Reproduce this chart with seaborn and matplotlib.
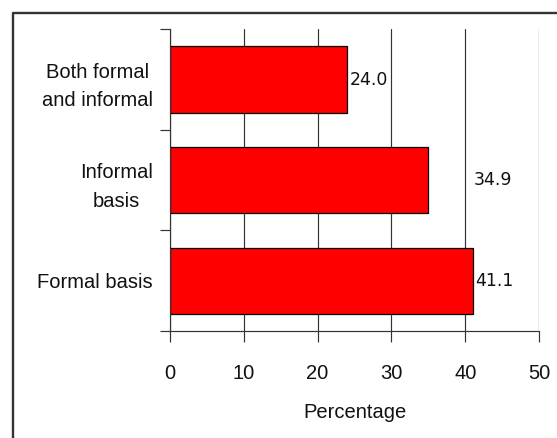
#!/usr/bin/env python3

import matplotlib
matplotlib.use("Agg")
import matplotlib.pyplot as plt
import pandas as pd
import seaborn as sns

# data, top to bottom
categories = ["Both formal\nand informal", "Informal\nbasis", "Formal basis"]
values = [24.0, 34.9, 41.1]
value_labels = ["24.0", "34.9", "41.1"]
x_ticks = [0, 10, 20, 30, 40, 50]

FIGSIZE = (5.57, 4.38)
LINE = "#333333"
TEXT = "#111111"


def plot_bars(df, output_png):
    fig, ax = plt.subplots(figsize=FIGSIZE, dpi=100)

    sns.barplot(data=df, x="value", y="category", orient="h", ax=ax,
                color="#ff0000", saturation=1, width=0.66,
                edgecolor="black", linewidth=0.9)

    ax.set_xlim(0, 50)
    ax.set_ylim(2.5, -0.5)
    ax.set_xticks(x_ticks)
    ax.set_xticklabels([str(t) for t in x_ticks])

    # vertical grid only, behind the bars
    ax.set_axisbelow(True)
    ax.xaxis.grid(True, color=LINE, linewidth=0.85)
    ax.yaxis.grid(False)

    # category ticks sit between the bars
    ax.set_yticks([-0.5, 0.5, 1.5, 2.5], minor=True)
    ax.tick_params(axis="y", which="minor", length=7, width=0.85, color=LINE, left=True)
    ax.tick_params(axis="y", which="major", length=0, pad=12.5, labelsize=14.5,
                   labelcolor=TEXT)
    for lab in ax.get_yticklabels():
        lab.set_multialignment("center")
        lab.set_linespacing(1.65)
    ax.tick_params(axis="x", which="major", length=8, width=0.85, color=LINE,
                   bottom=True, pad=16, labelsize=14.5, labelcolor=TEXT)

    for side in ["top", "right"]:
        ax.spines[side].set_visible(False)
    for side in ["left", "bottom"]:
        ax.spines[side].set_color(LINE)
        ax.spines[side].set_linewidth(0.85)

    ax.set_ylabel("")
    ax.set_xlabel("Percentage", fontsize=14.5, labelpad=14, color=TEXT)

    # value labels; the middle one sits out to the right as in the original
    label_x = [v + 0.3 for v in values]
    label_x[1] = values[2] + 0.1
    for i, (lx, txt) in enumerate(zip(label_x, value_labels)):
        ax.text(lx, i, txt, va="center", ha="left", fontsize=12.5,
                family="DejaVu Sans", color=TEXT)

    fig.subplots_adjust(left=0.3052, right=0.9677, top=0.9331, bottom=0.2443)

    # outer frame, cut off at the right and bottom
    x0 = 13.5 / 557
    y0 = 1 - 13 / 438
    fig.add_artist(plt.Line2D([x0, x0, 1.05], [-0.05, y0, y0],
                              transform=fig.transFigure, color="#333333",
                              linewidth=1.7))

    fig.savefig(output_png, dpi=100)
    plt.close()


if __name__ == '__main__':
    sns.set_style("white")
    plt.rcParams["font.family"] = ["Liberation Sans", "DejaVu Sans"]
    df = pd.DataFrame({"category": categories, "value": values})
    plot_bars(df, "out.png")
